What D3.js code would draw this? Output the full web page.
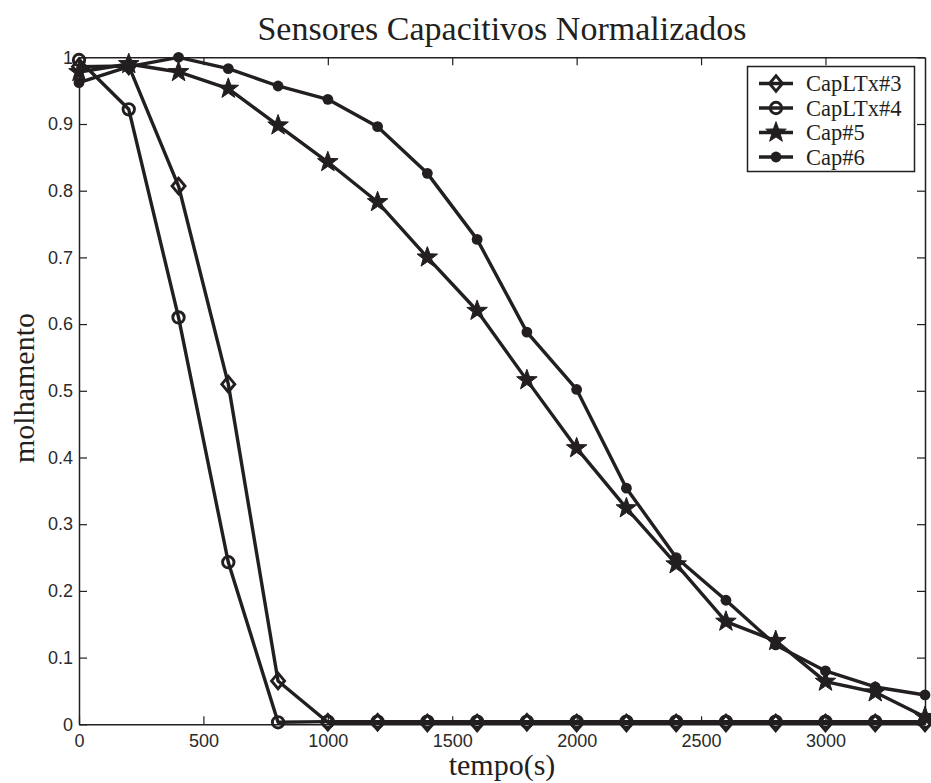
<!DOCTYPE html>
<html><head><meta charset="utf-8">
<script src="https://cdn.jsdelivr.net/npm/d3@7"></script>
<style>body{margin:0;background:#fff;}svg{display:block;}</style>
</head><body>
<script>
const times = [0,200,400,600,800,1000,1200,1400,1600,1800,2000,2200,2400,2600,2800,3000,3200,3400];
const capLTx3 = [0.986,0.987,0.807,0.510,0.065,0.003,0.003,0.002,0.002,0.003,0.002,0.002,0.002,0.002,0.002,0.002,0.002,0.002];
const capLTx4 = [0.996,0.922,0.610,0.243,0.003,0.004,0.004,0.004,0.004,0.004,0.004,0.004,0.004,0.004,0.004,0.004,0.004,0.004];
const cap5 = [0.978,0.990,0.978,0.953,0.898,0.843,0.783,0.700,0.620,0.516,0.414,0.324,0.240,0.154,0.125,0.064,0.048,0.011];
const cap6 = [0.962,0.986,1.000,0.983,0.957,0.937,0.896,0.826,0.727,0.588,0.502,0.354,0.250,0.186,0.119,0.080,0.056,0.044];
const seriesNames = ["CapLTx#3","CapLTx#4","Cap#5","Cap#6"];
const markerTypes = ["diamond","circle","star","dot"];
const xTicks = [0,500,1000,1500,2000,2500,3000];
const yTicks = [0,0.1,0.2,0.3,0.4,0.5,0.6,0.7,0.8,0.9,1];
const titleText = "Sensores Capacitivos Normalizados";
const xLabel = "tempo(s)";
const yLabel = "molhamento";

const W = 931, H = 783;
const m = {l:79, r:6, t:57.3, b:58.7};
const ink = "#231f20";
const svg = d3.select("body").append("svg").attr("width",W).attr("height",H);
const x = d3.scaleLinear().domain([0,3400]).range([m.l, W-m.r]);
const y = d3.scaleLinear().domain([0,1]).range([H-m.b, m.t]);
const tickFont = "'Liberation Sans', Arial, sans-serif";
const serif = "'Liberation Serif', 'Times New Roman', serif";

const axB = d3.axisBottom(x).tickValues(xTicks).tickSizeInner(-8).tickSizeOuter(0).tickPadding(10).tickFormat(d3.format("d"));
const axT = d3.axisTop(x).tickValues(xTicks).tickSizeInner(-8).tickSizeOuter(0).tickFormat("");
const axL = d3.axisLeft(y).tickValues(yTicks).tickSizeInner(-8).tickSizeOuter(0).tickPadding(6).tickFormat(d=>d===0?"0":d===1?"1":d3.format(".1f")(d));
const axR = d3.axisRight(y).tickValues(yTicks).tickSizeInner(-8).tickSizeOuter(0).tickFormat("");
function style(g){
  g.selectAll("path").attr("stroke",ink).attr("stroke-width",1.5);
  g.selectAll("line").attr("stroke",ink).attr("stroke-width",1.2);
  g.selectAll("text").attr("fill","#2a2a2a").style("font-family",tickFont).style("font-size","18px");
}
svg.append("g").attr("transform",`translate(0,${H-m.b})`).call(axB).call(style);
svg.append("g").attr("transform",`translate(0,${m.t})`).call(axT).call(style);
svg.append("g").attr("transform",`translate(${m.l},0)`).call(axL).call(style);
svg.append("g").attr("transform",`translate(${W-m.r},0)`).call(axR).call(style);

const allSeries = [capLTx3, capLTx4, cap5, cap6];
const line = d3.line().x((d,i)=>x(times[i])).y(d=>y(d));
const starPath = (()=>{const p=d3.path();const R=10.8,r=4.4;for(let k=0;k<10;k++){const a=-Math.PI/2+k*Math.PI/5;const rr=k%2?r:R;const px=rr*Math.cos(a),py=rr*Math.sin(a);if(k===0)p.moveTo(px,py);else p.lineTo(px,py);}p.closePath();return p.toString();})();
function drawMarker(g, type){
  if(type==="diamond") g.append("path").attr("d","M0,-7.8L6.5,0L0,7.8L-6.5,0Z").attr("fill","none").attr("stroke",ink).attr("stroke-width",2.9);
  else if(type==="circle") g.append("circle").attr("r",5.7).attr("fill","none").attr("stroke",ink).attr("stroke-width",2.9);
  else if(type==="star") g.append("path").attr("d",starPath).attr("fill",ink).attr("stroke",ink).attr("stroke-width",1);
  else g.append("circle").attr("r",5.4).attr("fill",ink);
}
const plot = svg.append("g");
allSeries.forEach((s,si)=>{
  plot.append("path").datum(s).attr("d",line).attr("fill","none").attr("stroke",ink).attr("stroke-width",3.4).attr("stroke-linejoin","round");
  s.forEach((v,i)=>{
    const g = plot.append("g").attr("transform",`translate(${x(times[i])},${y(v)})`);
    drawMarker(g, markerTypes[si]);
  });
});

// legend
const lg = svg.append("g");
lg.append("rect").attr("x",747.5).attr("y",66.5).attr("width",167).attr("height",105).attr("fill","#fff").attr("stroke",ink).attr("stroke-width",1.5);
seriesNames.forEach((n,i)=>{
  const yy = 83.5 + i*24.5;
  lg.append("line").attr("x1",759).attr("x2",793).attr("y1",yy).attr("y2",yy).attr("stroke",ink).attr("stroke-width",3.4);
  const g = lg.append("g").attr("transform",`translate(776,${yy})`);
  drawMarker(g, markerTypes[i]);
  lg.append("text").attr("x",806).attr("y",yy+7.5).text(n).attr("fill",ink).style("font-family",serif).style("font-size","22.5px");
});

// titles
svg.append("text").attr("x",502).attr("y",40).attr("text-anchor","middle").text(titleText).attr("fill",ink).style("font-family",serif).style("font-size","34px");
svg.append("text").attr("x",502).attr("y",775).attr("text-anchor","middle").text(xLabel).attr("fill",ink).style("font-family",serif).style("font-size","30px");
svg.append("text").attr("transform","translate(34,388) rotate(-90)").attr("text-anchor","middle").text(yLabel).attr("fill",ink).style("font-family",serif).style("font-size","30px");
</script>
</body></html>
